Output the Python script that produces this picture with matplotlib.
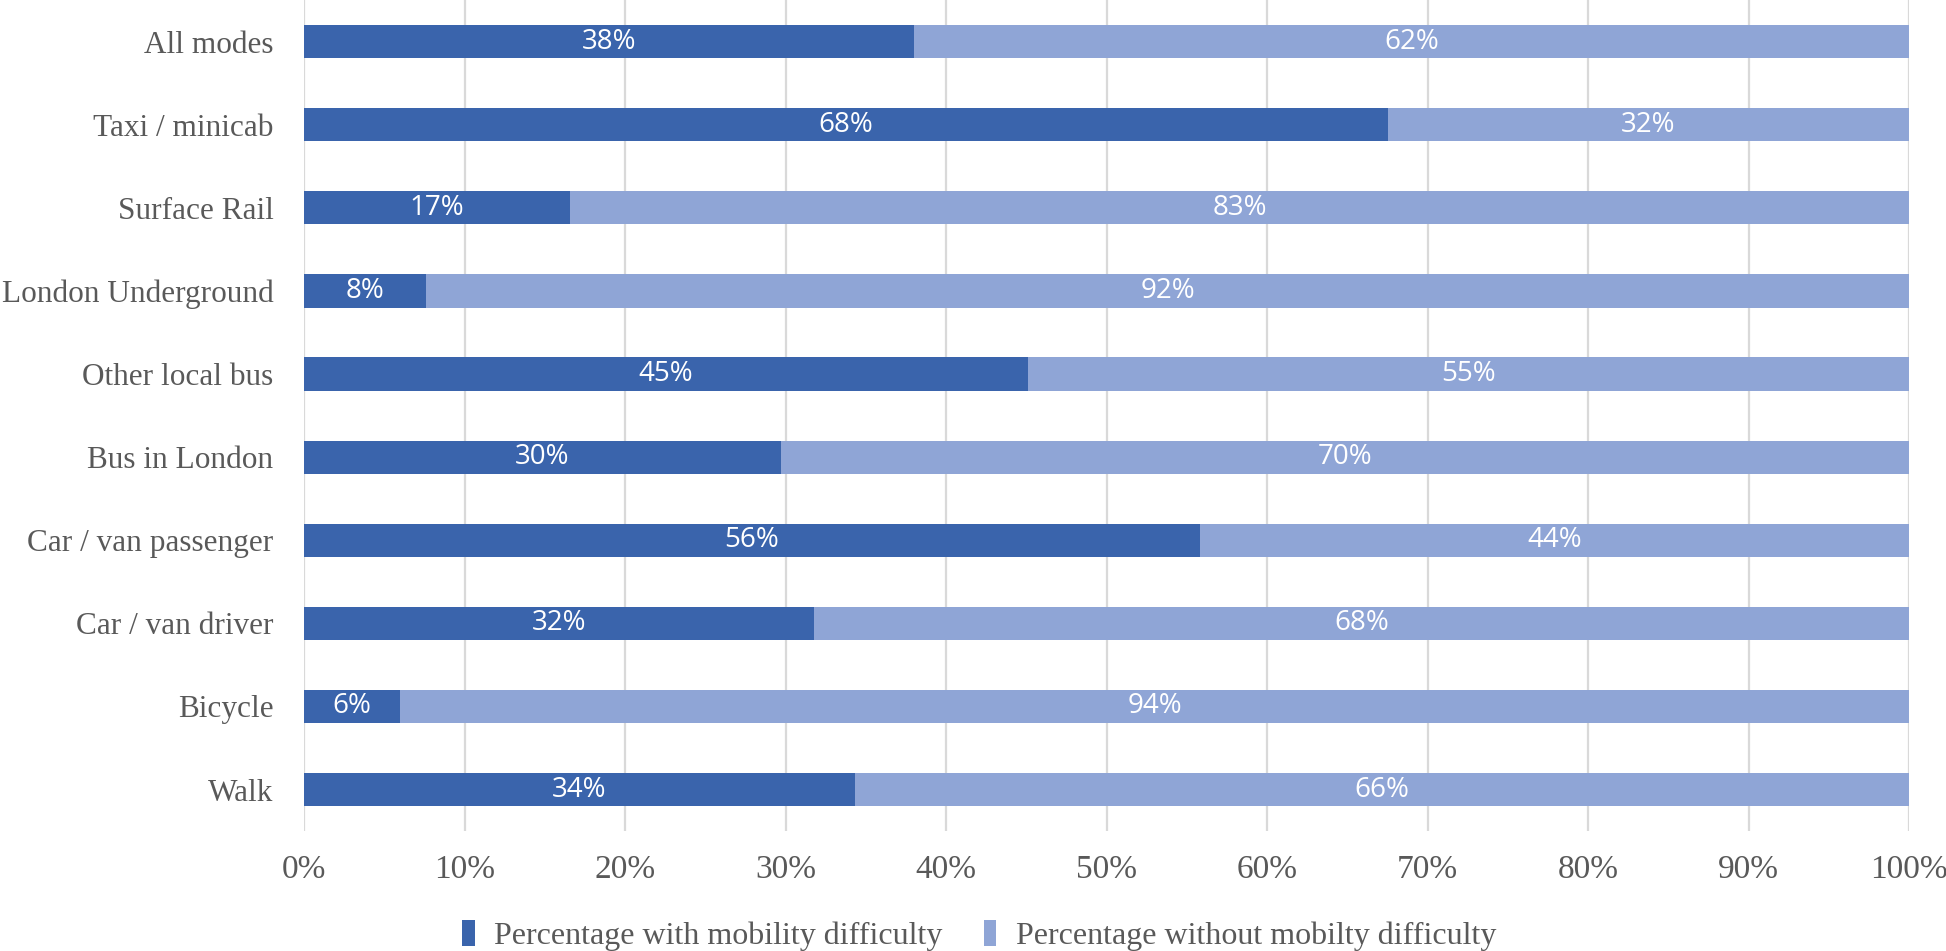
import matplotlib
matplotlib.use('Agg')
import matplotlib.pyplot as plt
import numpy as np

# data (top to bottom as drawn)
modes = ['All modes', 'Taxi / minicab', 'Surface Rail', 'London Underground',
         'Other local bus', 'Bus in London', 'Car / van passenger',
         'Car / van driver', 'Bicycle', 'Walk']
with_difficulty = [37.97, 67.5, 16.6, 7.6, 45.1, 29.7, 55.8, 31.8, 6.0, 34.3]
without_difficulty = [100 - v for v in with_difficulty]
series_names = ['Percentage with mobility difficulty',
                'Percentage without mobilty difficulty']
xticks = np.arange(0, 101, 10)

dark = '#3A64AC'
light = '#8FA5D6'
grey = '#595959'
serif = 'Liberation Serif'
sans = 'Open Sans'

fig = plt.figure(figsize=(19.46, 9.51), dpi=100)
ax = fig.add_axes([0.1562, 0.126, 0.825, 0.874])

y = np.arange(len(modes))
b1 = ax.barh(y, with_difficulty, height=0.4, color=dark, label=series_names[0], zorder=3)
b2 = ax.barh(y, without_difficulty, left=with_difficulty, height=0.4, color=light,
             label=series_names[1], zorder=3)

for bars, vals in ((b1, with_difficulty), (b2, without_difficulty)):
    ax.bar_label(bars, labels=[f'{v:.0f}%' for v in vals], label_type='center',
                 color='white', fontsize=20, family=sans)

ax.set_xlim(0, 100)
ax.set_ylim(len(modes) - 0.5, -0.5)
ax.set_xticks(xticks)
ax.set_xticklabels([f'{t}%' for t in xticks], family=serif, fontsize=24, color=grey)
ax.set_yticks(y)
ax.set_yticklabels(modes, family=serif, fontsize=22.5, color=grey)
ax.tick_params(length=0)
ax.tick_params(axis='x', pad=17)
ax.tick_params(axis='y', pad=22)
ax.grid(axis='x', color='#D9D9D9', lw=1.6, zorder=0)
for s in ax.spines.values():
    s.set_visible(False)

fig.legend(handles=[b1, b2], loc='lower center', bbox_to_anchor=(0.503, -0.03), ncol=2,
           frameon=False, prop={'family': serif, 'size': 23}, labelcolor=grey,
           handlelength=0.4, handleheight=0.9, handletextpad=0.6, columnspacing=1.3)

fig.savefig('out.png', dpi=100)
